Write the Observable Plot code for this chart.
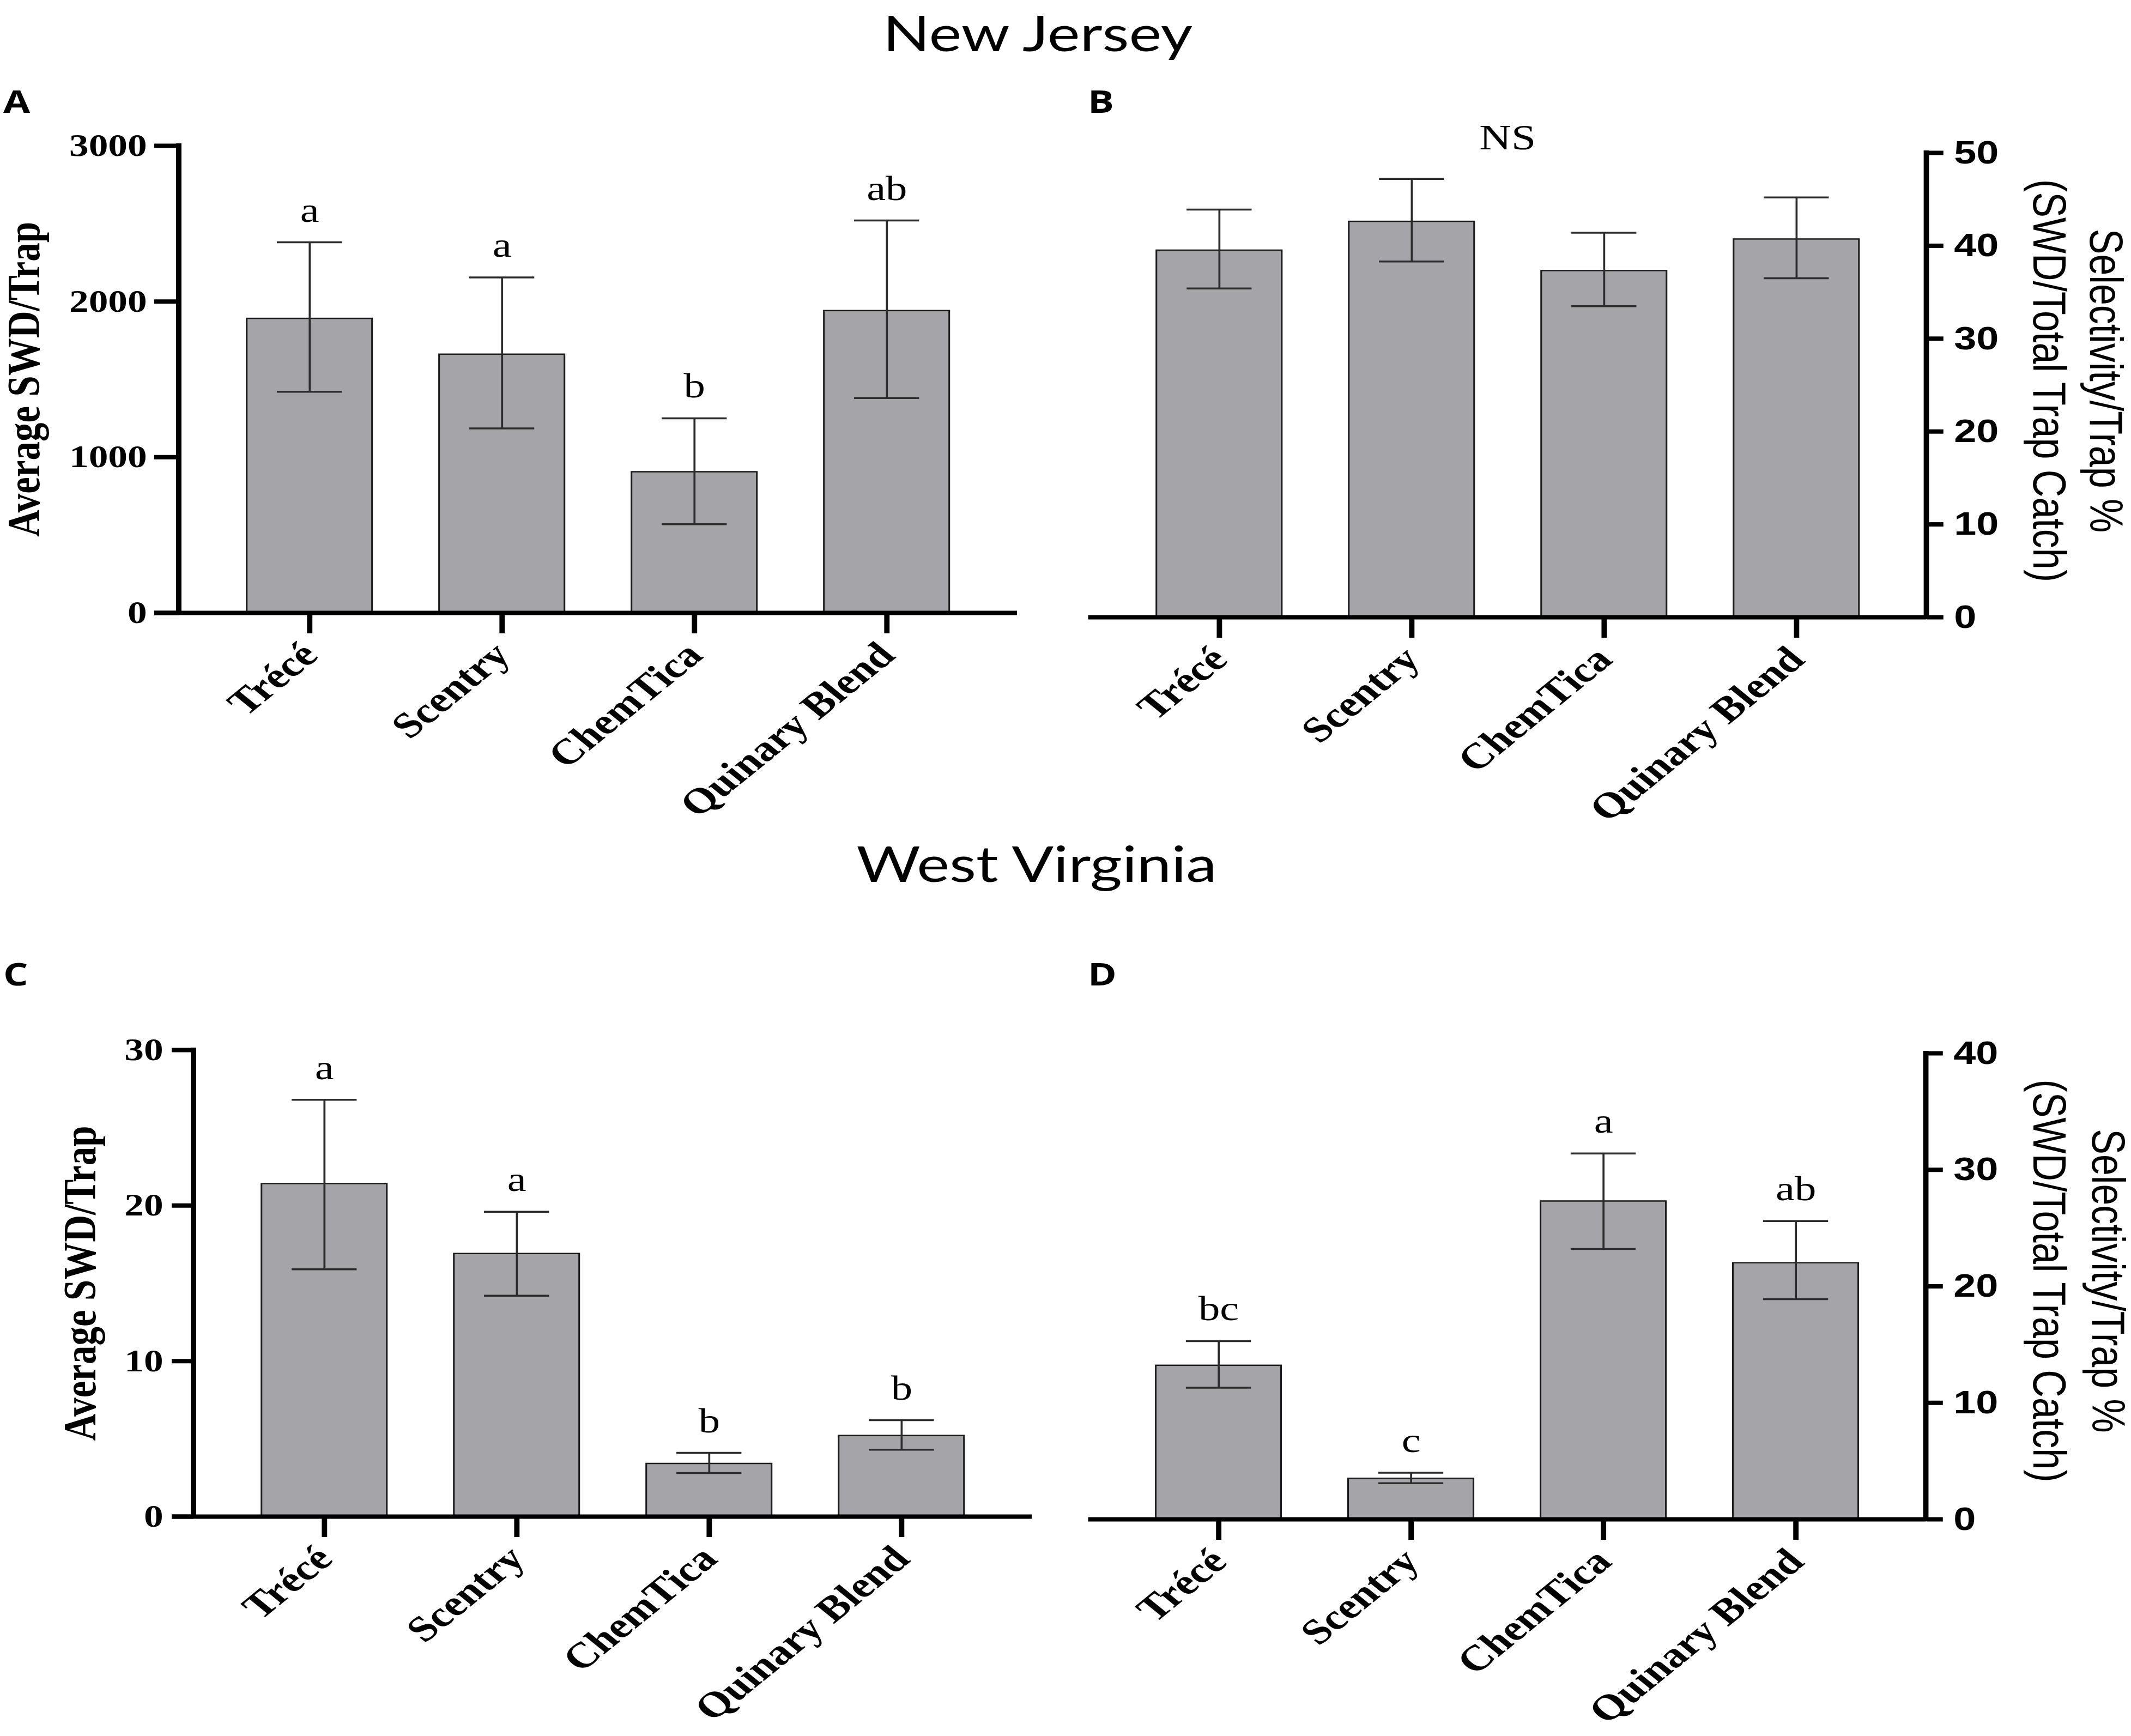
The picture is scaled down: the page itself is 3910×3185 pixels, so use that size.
<!DOCTYPE html>
<html>
<head>
<meta charset="utf-8">
<script src="https://cdn.jsdelivr.net/npm/d3@7"></script>
<script src="https://cdn.jsdelivr.net/npm/@observablehq/plot@0.6"></script>
<style>
html, body { margin: 0; padding: 0; background: #fff; }
body { width: 3910px; height: 3185px; overflow: hidden; position: relative; }
#fig { position: absolute; left: 0; top: 0; height: 3185px; transform-origin: 0 0; }
.title { position: absolute; font-family: Lato, 'Open Sans', sans-serif; font-size: 92px; line-height: normal; text-align: center; color: #000; white-space: nowrap; }
.plabel { position: absolute; font-family: 'Open Sans', sans-serif; font-weight: 700; font-size: 58px; line-height: 58px; color: #000; }
</style>
</head>
<body>
<div id="fig"></div>
<script>
// ---------------- data ----------------
const traps = ["Trécé", "Scentry", "ChemTica", "Quinary Blend"];

// A: New Jersey, average SWD per trap
const njCountMean = [1890, 1660, 905, 1940];
const njCountLow = [1420, 1185, 570, 1380];
const njCountHigh = [2380, 2155, 1250, 2520];
const njCountLetters = ["a", "a", "b", "ab"];

// B: New Jersey, selectivity %
const njSelMean = [39.5, 42.6, 37.3, 40.7];
const njSelLow = [35.4, 38.3, 33.5, 36.5];
const njSelHigh = [43.9, 47.2, 41.4, 45.2];
const njSelNote = "NS";

// C: West Virginia, average SWD per trap
const wvCountMean = [21.4, 16.9, 3.4, 5.2];
const wvCountLow = [15.9, 14.2, 2.8, 4.3];
const wvCountHigh = [26.8, 19.6, 4.1, 6.2];
const wvCountLetters = ["a", "a", "b", "b"];

// D: West Virginia, selectivity %
const wvSelMean = [13.2, 3.5, 27.3, 22.0];
const wvSelLow = [11.3, 3.1, 23.2, 18.9];
const wvSelHigh = [15.3, 4.0, 31.4, 25.6];
const wvSelLetters = ["bc", "c", "a", "ab"];

// axes / text
const njCountTicks = [0, 1000, 2000, 3000];
const njSelTicks = [0, 10, 20, 30, 40, 50];
const wvCountTicks = [0, 10, 20, 30];
const wvSelTicks = [0, 10, 20, 30, 40];
const countLabel = "Average SWD/Trap";
const selLabel1 = "Selectivity/Trap %";
const selLabel2 = "(SWD/Total Trap Catch)";
const stateTitles = ["New Jersey", "West Virginia"];
const panelLetters = ["A", "B", "C", "D"];

// ---------------- layout ----------------
const S = 1.23;               // horizontal stretch of the original figure
const sx = v => v / S;
const fig = document.getElementById("fig");
fig.style.width = sx(3910) + "px";
fig.style.transform = `scaleX(${S})`;

const SERIF = "'Liberation Serif','Times New Roman',Times,serif";
const SANS = "'Liberation Sans',Arial,Helvetica,sans-serif";
const BAR = "#a5a4a9";
const ERR = "#2c2c2c";

function addDiv(cls, text, css) {
  const d = document.createElement("div");
  d.className = cls;
  d.textContent = text;
  Object.assign(d.style, css);
  fig.appendChild(d);
}

addDiv("title", stateTitles[0], {left: "0px", width: sx(2 * 1904) + "px", top: "3px"});
addDiv("title", stateTitles[1], {left: "0px", width: sx(2 * 1902) + "px", top: "1527px"});
addDiv("plabel", panelLetters[0], {left: sx(6) + "px", top: "156px"});
addDiv("plabel", panelLetters[1], {left: sx(1996) + "px", top: "156px"});
addDiv("plabel", panelLetters[2], {left: sx(6) + "px", top: "1757px"});
addDiv("plabel", panelLetters[3], {left: sx(1996) + "px", top: "1757px"});

function rowsOf(mean, low, high, letters) {
  return traps.map((t, i) => ({trap: t, mean: mean[i], low: low[i], high: high[i], letter: letters ? letters[i] : ""}));
}

function axisLine(side) {
  return (index, scales, values, dims) => {
    const x = side === "left" ? dims.marginLeft : dims.width - dims.marginRight;
    return d3.create("svg:line")
      .attr("x1", x).attr("x2", x)
      .attr("y1", dims.marginTop - 4)
      .attr("y2", dims.height - dims.marginBottom + 4)
      .attr("stroke", "#000")
      .attr("stroke-width", 8)
      .node();
  };
}

function makePanel(c) {
  const data = rowsOf(c.mean, c.low, c.high, c.letters);
  const left = c.axis === "left";
  const frameLeft = c.left + c.mL;
  const frameRight = c.left + c.width - c.mR;
  const marks = [
    Plot.barY(data, {x: "trap", y: "mean", fill: BAR, stroke: "#1c1c1c", strokeWidth: 2.5}),
    Plot.ruleX(data, {x: "trap", y1: "low", y2: "high", stroke: ERR, strokeWidth: 3}),
    Plot.tickY(data, {x: "trap", y: "high", stroke: ERR, strokeWidth: 3.5, insetLeft: 45, insetRight: 45}),
    Plot.tickY(data, {x: "trap", y: "low", stroke: ERR, strokeWidth: 3.5, insetLeft: 45, insetRight: 45}),
    Plot.ruleY([0], {stroke: "#000", strokeWidth: 8, insetLeft: left ? -sx(c.tickSize) : 0}),
    axisLine(c.axis),
    Plot.axisX({
      tickSize: 38, tickPadding: 28, tickRotate: -45, strokeWidth: 8,
      fontSize: 66, fontWeight: "bold", fontFamily: SERIF, label: null
    }),
    Plot.axisY({
      anchor: c.axis, ticks: c.ticks, tickFormat: d => String(d),
      tickSize: sx(c.tickSize), tickPadding: sx(c.tickPad), strokeWidth: 8,
      fontSize: left ? 58 : 60, fontWeight: "bold", fontFamily: left ? SERIF : SANS, label: null
    })
  ];
  if (c.letters) {
    marks.push(Plot.text(data, {
      x: "trap", y: "high", text: "letter", lineAnchor: "bottom", dy: -38,
      fontSize: 64, fontFamily: SERIF, fontWeight: "normal"
    }));
  }
  if (c.note) {
    marks.push(Plot.text([c.note], {
      text: d => d, frameAnchor: "top", textAnchor: "middle", lineAnchor: "bottom",
      dy: c.noteBaseline - (c.top + c.mT),
      fontSize: 66, fontFamily: SERIF, fontWeight: "normal"
    }));
  }
  if (left) {
    marks.push(Plot.text([countLabel], {
      text: d => d, frameAnchor: "left", textAnchor: "middle", lineAnchor: "middle",
      dx: sx(c.yLabelX - frameLeft), rotate: -90,
      fontSize: 69, fontFamily: SERIF, fontWeight: "bold"
    }));
  } else {
    marks.push(Plot.text([selLabel1], {
      text: d => d, frameAnchor: "right", textAnchor: "middle", lineAnchor: "middle",
      dx: sx(c.label1X - frameRight), dy: c.labelDy, rotate: 90,
      fontSize: 70, fontFamily: SANS, fontWeight: "normal"
    }));
    marks.push(Plot.text([selLabel2], {
      text: d => d, frameAnchor: "right", textAnchor: "middle", lineAnchor: "middle",
      dx: sx(c.label2X - frameRight), dy: c.labelDy, rotate: 90,
      fontSize: 70, fontFamily: SANS, fontWeight: "normal"
    }));
  }
  const svg = Plot.plot({
    width: sx(c.width), height: c.height,
    marginLeft: sx(c.mL), marginRight: sx(c.mR), marginTop: c.mT, marginBottom: c.mB,
    x: {domain: traps, padding: 0.35},
    y: {domain: [0, c.max]},
    style: {background: "none", overflow: "visible", color: "#000"},
    marks
  });
  svg.style.position = "absolute";
  svg.style.left = sx(c.left) + "px";
  svg.style.top = c.top + "px";
  fig.appendChild(svg);
}

makePanel({
  mean: njCountMean, low: njCountLow, high: njCountHigh, letters: njCountLetters,
  left: 0, top: 200, width: 1950, height: 1360, mL: 328, mR: 84, mT: 67, mB: 436,
  axis: "left", max: 3000, ticks: njCountTicks, tickSize: 45, tickPad: 14, yLabelX: 44
});
makePanel({
  mean: njSelMean, low: njSelLow, high: njSelHigh, letters: null, note: njSelNote, noteBaseline: 274,
  left: 1950, top: 200, width: 1960, height: 1360, mL: 47, mR: 375, mT: 80, mB: 428,
  axis: "right", max: 50, ticks: njSelTicks, tickSize: 30, tickPad: 20,
  label1X: 3862, label2X: 3758, labelDy: -8
});
makePanel({
  mean: wvCountMean, low: wvCountLow, high: wvCountHigh, letters: wvCountLetters,
  left: 0, top: 1830, width: 1950, height: 1355, mL: 355, mR: 57, mT: 96, mB: 403,
  axis: "left", max: 30, ticks: wvCountTicks, tickSize: 40, tickPad: 16, yLabelX: 147
});
makePanel({
  mean: wvSelMean, low: wvSelLow, high: wvSelHigh, letters: wvSelLetters,
  left: 1950, top: 1830, width: 1960, height: 1355, mL: 47, mR: 376, mT: 102, mB: 398,
  axis: "right", max: 40, ticks: wvSelTicks, tickSize: 30, tickPad: 20,
  label1X: 3866, label2X: 3758, labelDy: -10
});
</script>
</body>
</html>
